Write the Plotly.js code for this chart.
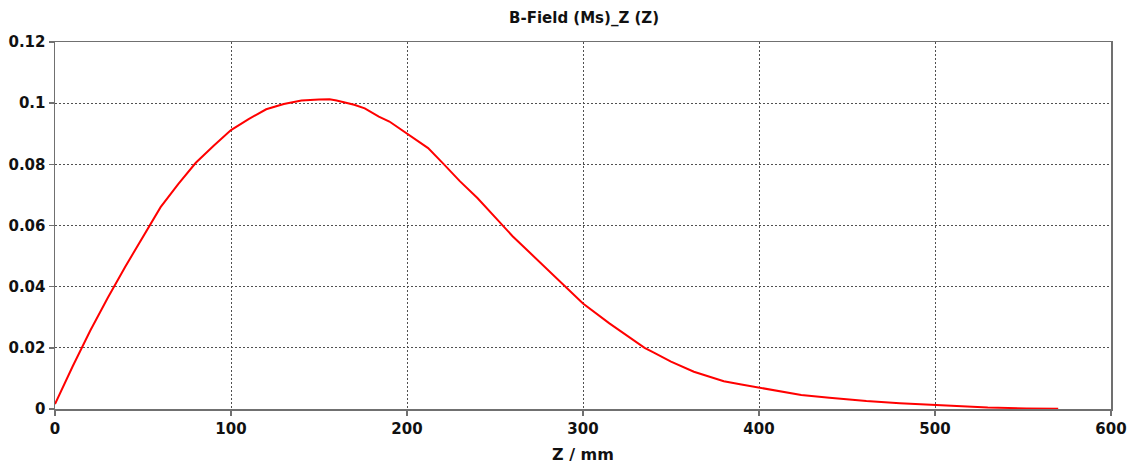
<!DOCTYPE html>
<html>
<head>
<meta charset="utf-8">
<script src="https://cdn.plot.ly/plotly-3.0.1.min.js"></script>
<style>html,body{margin:0;padding:0;background:#fff;}#chart{width:1133px;height:466px;}</style>
</head>
<body>
<div id="chart"></div>
<script>
const zMm = [0, 10, 20, 30, 40, 50, 60, 70, 80, 90, 100, 110, 120, 130, 140, 150, 156, 160, 170, 176, 184, 190, 200, 212, 221, 230, 240, 254, 260, 270, 280, 290, 300, 315, 320, 335, 340, 350, 363, 380, 390, 400, 412, 424, 440, 461, 480, 500, 514, 530, 552, 570];
const bField = [0.0016, 0.0139, 0.0256, 0.0364, 0.0466, 0.0564, 0.066, 0.0735, 0.0805, 0.086, 0.0912, 0.0948, 0.098, 0.0997, 0.1009, 0.1012, 0.1013, 0.1009, 0.0995, 0.0983, 0.0956, 0.094, 0.0901, 0.0853, 0.080, 0.0745, 0.069, 0.060, 0.0565, 0.051, 0.0455, 0.0398, 0.0345, 0.028, 0.026, 0.020, 0.0185, 0.0155, 0.0122, 0.0091, 0.008, 0.0070, 0.0059, 0.0046, 0.0037, 0.0026, 0.0019, 0.0013, 0.0008, 0.0005, 0.0002, 0.0001];
const chartTitle = 'B-Field (Ms)_Z (Z)';
const xTitle = 'Z / mm';
const xTicks = [0, 100, 200, 300, 400, 500, 600];
const yTicks = [0, 0.02, 0.04, 0.06, 0.08, 0.1, 0.12];
const yTickText = ['0', '0.02', '0.04', '0.06', '0.08', '0.1', '0.12'];

const font = 'DejaVu Sans, Verdana, sans-serif';
const trace = {
  x: zMm, y: bField, type: 'scatter', mode: 'lines',
  line: {color: '#ff0000', width: 2}, hoverinfo: 'skip'
};
const axisCommon = {
  showline: true, mirror: true, linecolor: '#707070', linewidth: 1.5,
  showgrid: true, gridcolor: '#505050', griddash: '2px,2px', gridwidth: 1,
  ticks: 'outside', ticklen: 5, tickcolor: '#707070', tickwidth: 1.5,
  zeroline: false,
  tickfont: {family: font, size: 15, color: '#111111', weight: 'bold'}
};
const layout = {
  width: 1133, height: 466,
  margin: {l: 55, r: 22, t: 42, b: 57},
  paper_bgcolor: '#ffffff', plot_bgcolor: '#ffffff',
  showlegend: false,
  title: {text: '<b>' + chartTitle + '</b>', x: 0.5155, xanchor: 'center', y: 0.962, yanchor: 'middle',
          font: {family: font, size: 15, color: '#111111'}},
  xaxis: Object.assign({}, axisCommon, {
    range: [0, 600], tickvals: xTicks, ticktext: xTicks.map(String),
    title: {text: '<b>' + xTitle + '</b>', standoff: 12, font: {family: font, size: 16, color: '#111111'}}
  }),
  yaxis: Object.assign({}, axisCommon, {
    range: [0, 0.12], tickvals: yTicks, ticktext: yTickText
  })
};
Plotly.newPlot('chart', [trace], layout, {staticPlot: true, displayModeBar: false});
</script>
</body>
</html>
